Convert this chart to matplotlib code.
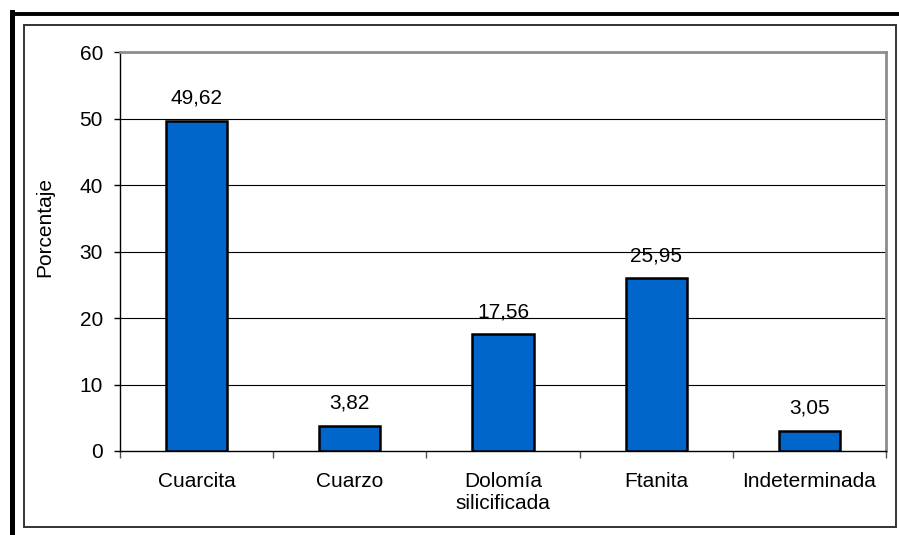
import matplotlib.pyplot as plt
from matplotlib.lines import Line2D
from matplotlib.patches import Rectangle
import numpy as np

plt.rcParams['font.family'] = ['Liberation Sans', 'DejaVu Sans']

categories = ["Cuarcita", "Cuarzo", "Dolomía\nsilicificada", "Ftanita", "Indeterminada"]
values = [49.62, 3.82, 17.56, 25.95, 3.05]
value_labels = ["49,62", "3,82", "17,56", "25,95", "3,05"]
yticks = [0, 10, 20, 30, 40, 50, 60]

W, H = 899, 535
fig = plt.figure(figsize=(W / 100, H / 100), dpi=100)

def fx(px):
    return px / W

def fy(py):
    return 1 - py / H

# outer frame: thick black corner lines and thin inner box
fig.add_artist(Line2D([fx(11.5), 1.0], [fy(13.5), fy(13.5)], color="black", lw=2.8,
                      transform=fig.transFigure))
fig.add_artist(Line2D([fx(11.5), fx(11.5)], [fy(12), 0.0], color="black", lw=3.6,
                      transform=fig.transFigure))
fig.add_artist(Rectangle((fx(24), fy(527)), fx(896) - fx(24), fy(25) - fy(527),
                         fill=False, edgecolor="#333333", lw=1.4, transform=fig.transFigure))

ax = fig.add_axes([fx(120), fy(451), fx(886) - fx(120), fy(52) - fy(451)])

x = np.arange(len(categories))
bars = ax.bar(x, values, width=0.4, color="#0066CC", edgecolor="black", lw=1.8, zorder=3)
ax.bar_label(bars, labels=value_labels, padding=9.5, fontsize=15)

ax.set_xlim(-0.5, len(categories) - 0.5)
ax.set_ylim(0, 60)
ax.set_yticks(yticks)
ax.hlines(yticks[1:-1], -0.5, len(categories) - 0.5, color="black", lw=0.8, zorder=1)

# boundary ticks (major) and labels at centers (minor)
ax.set_xticks(np.arange(len(categories) + 1) - 0.5)
ax.set_xticklabels([])
ax.set_xticks(x, minor=True)
ax.set_xticklabels(categories, minor=True, fontsize=15)
for t in ax.get_xticklabels(minor=True):
    t.set_linespacing(1.2)
ax.tick_params(axis="x", which="major", direction="out", length=5, width=1, color="#555555")
ax.tick_params(axis="x", which="minor", length=0, pad=15)
ax.tick_params(axis="y", direction="out", length=4.3, width=1, pad=8, labelsize=15)

ax.spines["left"].set_color("black")
ax.spines["left"].set_linewidth(1)
ax.spines["bottom"].set_color("black")
ax.spines["bottom"].set_linewidth(1)
ax.spines["top"].set_color("#8c8c8c")
ax.spines["top"].set_linewidth(2)
ax.spines["right"].set_color("#8c8c8c")
ax.spines["right"].set_linewidth(2)

fig.text(fx(45), fy(227), "Porcentaje", rotation=90, ha="center", va="center", fontsize=15)

fig.savefig("out.png", dpi=100)
